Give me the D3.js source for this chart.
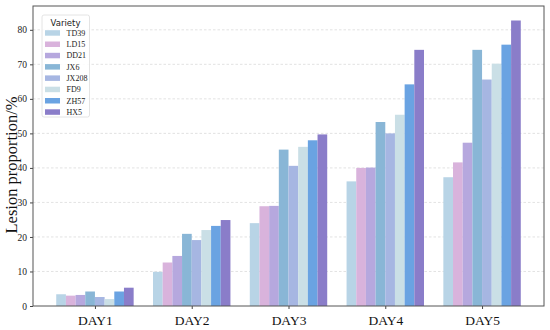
<!DOCTYPE html>
<html><head><meta charset="utf-8">
<script src="https://cdn.jsdelivr.net/npm/d3@7"></script>
<style>body{margin:0;background:#fff}svg{display:block}</style>
</head><body>
<svg id="c" width="550" height="330"></svg>
<script>
const days = ["DAY1","DAY2","DAY3","DAY4","DAY5"];
const varieties = ["TD39","LD15","DD21","JX6","JX208","FD9","ZH57","HX5"];
const colors = ["#b8d4e6","#d9b3dc","#b6a8de","#89b6d6","#a6b6e2","#cadfe6","#6aa3e2","#8a7dc9"];
const TD39  = [3.4, 9.9, 24.0, 36.1, 37.3];
const LD15  = [3.0, 12.6, 28.9, 40.0, 41.6];
const DD21  = [3.2, 14.5, 29.0, 40.1, 47.3];
const JX6   = [4.2, 20.9, 45.3, 53.3, 74.2];
const JX208 = [2.6, 19.1, 40.6, 50.0, 65.6];
const FD9   = [2.0, 22.0, 46.1, 55.4, 70.2];
const ZH57  = [4.2, 23.2, 48.0, 64.2, 75.7];
const HX5   = [5.3, 24.9, 49.7, 74.2, 82.7];
const series = [TD39, LD15, DD21, JX6, JX208, FD9, ZH57, HX5];
const yTicks = [0,10,20,30,40,50,60,70,80];

const svg = d3.select("#c");
const L = 33, R = 544, T = 6, B = 306;
const x = d3.scaleLinear().domain([-0.64, 4.64]).range([L, R]);
const y = d3.scaleLinear().domain([0, 86.9]).range([B, T]);
const bw = 0.1;

// grid
svg.append("g").selectAll("line").data(yTicks.slice(1)).join("line")
  .attr("x1", L).attr("x2", R).attr("y1", d => y(d)).attr("y2", d => y(d))
  .attr("stroke", "#dadada").attr("stroke-width", 0.8).attr("stroke-dasharray", "2.5,2");

// bars
series.forEach((s, j) => {
  svg.append("g").selectAll("rect").data(s).join("rect")
    .attr("x", (d, i) => x(i + (j - 3.5) * bw - bw / 2))
    .attr("width", x(bw) - x(0))
    .attr("y", d => y(d))
    .attr("height", d => y(0) - y(d))
    .attr("fill", colors[j]);
});

// axes
const yAxis = d3.axisLeft(y).tickValues(yTicks).tickSize(3).tickPadding(3);
const gy = svg.append("g").attr("transform", `translate(${L},0)`).call(yAxis);
gy.selectAll("text").attr("font-family", "Liberation Serif, serif").attr("font-size", 9.5).attr("fill", "#222");
const xAxis = d3.axisBottom(x).tickValues([0,1,2,3,4]).tickFormat(i => days[i]).tickSize(3).tickPadding(6);
const gx = svg.append("g").attr("transform", `translate(0,${B})`).call(xAxis);
gx.selectAll("text").attr("font-family", "Liberation Serif, serif").attr("font-size", 13.5).attr("fill", "#111");
svg.selectAll(".domain").remove();
svg.selectAll(".tick line").attr("stroke", "#444");

// frame
svg.append("rect").attr("x", L).attr("y", T).attr("width", R - L).attr("height", B - T)
  .attr("fill", "none").attr("stroke", "#555").attr("stroke-width", 1);

// y label
svg.append("text").attr("transform", `translate(17,${(T+B)/2 + 9}) rotate(-90)`)
  .attr("text-anchor", "middle").attr("font-family", "Liberation Serif, serif")
  .attr("font-size", 16.5).attr("fill", "#111").text("Lesion proportion/%");

// legend
const lg = svg.append("g");
lg.append("rect").attr("x", 42).attr("y", 15).attr("width", 47.5).attr("height", 102).attr("rx", 2)
  .attr("fill", "#fff").attr("fill-opacity", 0.85).attr("stroke", "#ddd").attr("stroke-width", 0.8);
lg.append("text").attr("x", 65.5).attr("y", 26).attr("text-anchor", "middle")
  .attr("font-family", "DejaVu Sans, sans-serif").attr("font-size", 8.5).attr("fill", "#222").text("Variety");
varieties.forEach((v, j) => {
  const yy = 33 + j * 11.3;
  lg.append("rect").attr("x", 45).attr("y", yy - 2.8).attr("width", 15).attr("height", 5.5).attr("fill", colors[j]);
  lg.append("text").attr("x", 66.5).attr("y", yy + 2.8).attr("font-family", "Liberation Serif, serif")
    .attr("font-size", 8).attr("fill", "#222").text(v);
});
</script>
</body></html>
